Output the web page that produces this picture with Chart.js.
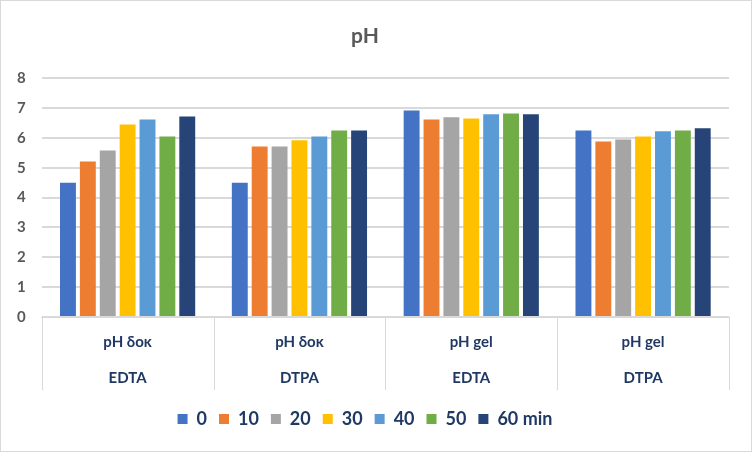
<!DOCTYPE html>
<html>
<head>
<meta charset="utf-8">
<script src="https://cdn.jsdelivr.net/npm/chart.js@4/dist/chart.umd.min.js"></script>
<style>
  html, body { margin: 0; padding: 0; background: #fff; }
  #wrap { width: 752px; height: 452px; box-sizing: border-box; border: 1px solid #d9d9d9; }
  canvas { display: block; }
</style>
</head>
<body>
<div id="wrap"><canvas id="chart" width="750" height="450"></canvas></div>
<script>
// categories: [line 1, line 2]
const categories = [
  ['pH δοκ', 'EDTA'],
  ['pH δοκ', 'DTPA'],
  ['pH gel', 'EDTA'],
  ['pH gel', 'DTPA']
];
const seriesLabels = ['0', '10', '20', '30', '40', '50', '60 min'];

// pH per time point, one array per series, values for the 4 categories
const min0  = [4.50, 4.50, 6.92, 6.25];
const min10 = [5.21, 5.71, 6.62, 5.88];
const min20 = [5.58, 5.71, 6.69, 5.95];
const min30 = [6.45, 5.92, 6.65, 6.05];
const min40 = [6.62, 6.05, 6.79, 6.22];
const min50 = [6.05, 6.25, 6.82, 6.25];
const min60 = [6.72, 6.25, 6.79, 6.32];

const yTicks = [0, 1, 2, 3, 4, 5, 6, 7, 8];

// Office palette
const colors = ['#4472C4', '#ED7D31', '#A5A5A5', '#FFC000', '#5B9BD5', '#70AD47', '#264478'];
const series = [min0, min10, min20, min30, min40, min50, min60];

const datasets = series.map((data, i) => ({
  label: seriesLabels[i],
  data,
  backgroundColor: colors[i],
  borderWidth: 0,
  barPercentage: 0.8,
  categoryPercentage: 0.81
}));

// vertical separators of the category table below the plot
const tableHeight = 73;
const categoryBoxes = {
  id: 'categoryBoxes',
  afterDraw(chart) {
    const x = chart.scales.x;
    const ctx = chart.ctx;
    ctx.save();
    ctx.strokeStyle = '#d9d9d9';
    ctx.lineWidth = 1;
    for (let i = 0; i <= categories.length; i++) {
      const px = Math.round(x.getPixelForValue(i - 0.5)) + 0.5;
      ctx.beginPath();
      ctx.moveTo(px, x.top);
      ctx.lineTo(px, x.top + tableHeight);
      ctx.stroke();
    }
    ctx.restore();
  }
};

new Chart(document.getElementById('chart'), {
  type: 'bar',
  data: { labels: categories, datasets },
  plugins: [categoryBoxes],
  options: {
    responsive: false,
    animation: false,
    layout: { padding: { left: 0, right: 22, top: 0, bottom: 13 } },
    plugins: {
      title: {
        display: true,
        text: 'pH',
        color: '#595959',
        font: { family: 'Lato', size: 21, weight: 'bold' },
        padding: { top: 23, bottom: 29 }
      },
      legend: {
        position: 'bottom',
        labels: {
          color: '#203864',
          font: { family: 'Lato', size: 18, weight: 'bold' },
          boxWidth: 10,
          boxHeight: 10,
          padding: 12
        }
      },
      tooltip: { enabled: false }
    },
    scales: {
      x: {
        offset: true,
        afterFit: axis => { axis.height = tableHeight + 8; },
        border: { display: true, color: '#d9d9d9', width: 1 },
        grid: { display: false, drawTicks: false },
        ticks: {
          color: '#203864',
          font: { family: 'Lato', size: 15, weight: 'bold', lineHeight: '36px' },
          padding: 7,
          maxRotation: 0,
          autoSkip: false
        }
      },
      y: {
        min: 0,
        max: 8,
        afterBuildTicks: axis => { axis.ticks = yTicks.map(v => ({ value: v })); },
        border: { display: false },
        grid: { color: '#d9d9d9', lineWidth: 2, drawTicks: false },
        ticks: {
          color: '#595959',
          font: { family: 'Lato', size: 15, weight: 'bold' },
          padding: 16
        }
      }
    }
  }
});
</script>
</body>
</html>
